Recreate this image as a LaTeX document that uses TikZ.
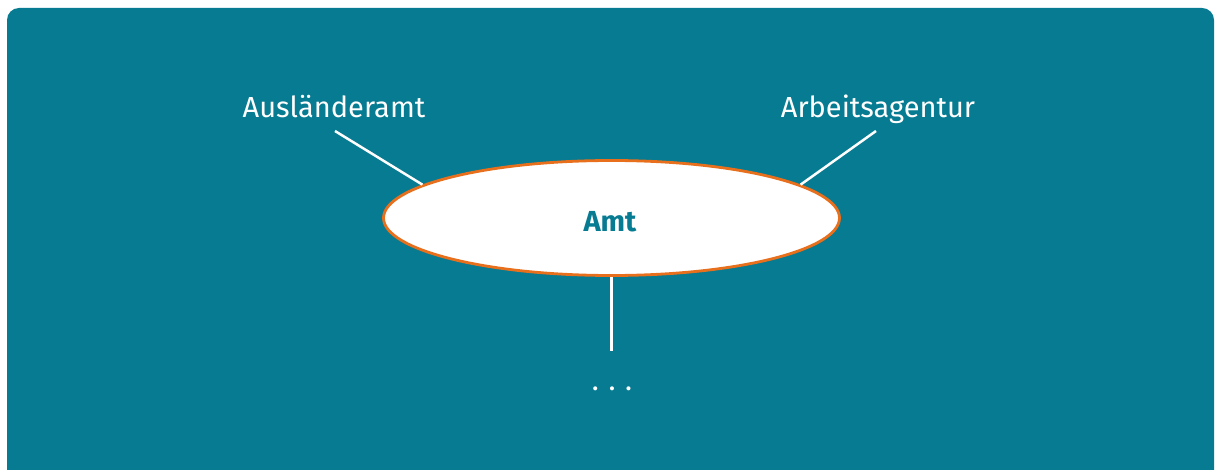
\documentclass[tikz,border=0pt]{standalone}
\usepackage{fontspec}
\setmainfont{Fira Sans}
\usetikzlibrary{shapes.geometric}
\definecolor{amtteal}{RGB}{6,123,145}
\definecolor{amtorange}{RGB}{232,111,28}
\begin{document}
\begin{tikzpicture}[x=1pt, y=-1pt, line width=2.5pt, main node/.style={ellipse,draw=amtorange,fill=white,line width=2.8pt,minimum width=456pt,minimum height=115pt,inner sep=0pt}, label node/.style={anchor=base,text=white,inner sep=0pt}]
\useasboundingbox (0,0) rectangle (1215,470);
\fill[amtteal, rounded corners=12pt] (7,8) rectangle (1214,482);
\begin{scope}[every node/.style={font=\fontsize{29}{34}\selectfont}]
\node[main node] (amt) at (611.5,218) {};%Amt
\node[anchor=base, text=amtteal, inner sep=0pt, font=\fontsize{29}{34}\selectfont\bfseries] (amtlabel) at (610,232) {Amt};
\node[label node] (aus) at (334,118) {Ausländeramt};%1
\node[label node] (arb) at (878,118) {Arbeitsagentur};%2
\node[label node] (more) at (612,390) {.\,\,.\,\,.};%3
\end{scope}
\coordinate (c1) at (335,131);
\coordinate (c2) at (876,131);
\coordinate (c3) at (611.5,351);
\begin{scope}[white]
\draw (c1) edge node{} (amt.170);
\draw (c2) edge node{} (amt.10);
\draw (amt.south) edge node{} (c3);
\end{scope}
\end{tikzpicture}
\end{document}
